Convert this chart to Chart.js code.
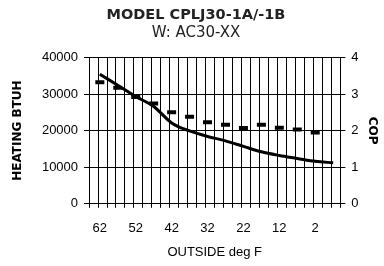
<!DOCTYPE html>
<html>
<head>
<meta charset="utf-8">
<script src="https://cdn.jsdelivr.net/npm/chart.js@4"></script>
<style>
  html, body { margin: 0; padding: 0; background: #fff; }
  #wrap { width: 384px; height: 266px; }
</style>
</head>
<body>
<div id="wrap"><canvas id="chart" width="384" height="266"></canvas></div>
<script>
// outdoor temperature tick labels (deg F)
const xTickLabels = [62, 52, 42, 32, 22, 12, 2];
// vertical grid positions (deg F)
const xGridLines = [65, 62.5, 60, 57.5, 55, 52.5, 50, 47.5, 45, 42.5, 40, 37.5, 35, 32.5, 30,
    27.5, 25, 22.5, 20, 17.5, 15, 12.5, 10, 7.5, 5, 2.5, 0, -2.5, -5];

// heating capacity, BTUH
const heatTemps = [62, 57, 52, 47, 42, 37, 32, 27, 22, 17, 12, 7, 2, -3];
const heatingBtuh = [35400, 32400, 29300, 26600, 22100, 19900, 18400, 17200, 15700, 14200, 13200, 12400, 11600, 11200];

// coefficient of performance
const copTemps = [62, 57, 52, 47, 42, 37, 32, 27, 22, 17, 12, 7, 2];
const copValues = [3.32, 3.17, 2.92, 2.74, 2.50, 2.38, 2.23, 2.16, 2.07, 2.16, 2.08, 2.03, 1.95];

const tickFont = { family: 'Liberation Sans', size: 13 };
const boldFont = { family: 'DejaVu Sans', size: 12, weight: 'bold' };

const ctx = document.getElementById('chart').getContext('2d');

new Chart(ctx, {
    type: 'scatter',
    data: {
        datasets: [
            {
                label: 'Heating BTUH',
                data: heatTemps.map((t, i) => ({ x: t, y: heatingBtuh[i] })),
                showLine: true,
                borderColor: '#000',
                borderWidth: 3,
                pointRadius: 0,
                cubicInterpolationMode: 'monotone',
                yAxisID: 'y'
            },
            {
                label: 'COP',
                data: copTemps.map((t, i) => ({ x: t, y: copValues[i] })),
                showLine: false,
                pointStyle: 'line',
                pointRadius: 4.5,
                pointBorderWidth: 4,
                borderColor: '#000',
                backgroundColor: '#000',
                yAxisID: 'y2'
            }
        ]
    },
    options: {
        responsive: false,
        animation: false,
        layout: { padding: { left: 10, right: 2, top: 4, bottom: 2 } },
        plugins: {
            legend: { display: false },
            tooltip: { enabled: false },
            title: {
                display: true,
                text: 'MODEL CPLJ30-1A/-1B',
                color: '#222',
                font: { family: 'DejaVu Sans', size: 14.5, weight: 'bold' },
                padding: { top: 3, bottom: 0 }
            },
            subtitle: {
                display: true,
                text: 'W: AC30-XX',
                color: '#222',
                font: { family: 'DejaVu Sans', size: 15 },
                padding: { top: 0, bottom: 15 }
            }
        },
        scales: {
            x: {
                type: 'linear',
                position: 'bottom',
                min: -5,
                max: 65,
                reverse: true,
                afterBuildTicks: axis => { axis.ticks = xGridLines.map(v => ({ value: v })); },
                ticks: { display: false },
                // grid drawn above the datasets layer, border after it
                grid: { display: true, color: '#000', lineWidth: 1, tickLength: 4, z: 1 },
                border: { color: '#000', z: 2 }
            },
            x2: {
                type: 'linear',
                position: 'bottom',
                min: -5,
                max: 65,
                reverse: true,
                afterBuildTicks: axis => { axis.ticks = xTickLabels.map(v => ({ value: v })); },
                ticks: { color: '#000', font: tickFont, padding: 5 },
                grid: { display: false },
                border: { display: false },
                title: { display: true, text: 'OUTSIDE deg F', color: '#000', font: tickFont, padding: { top: 3, bottom: 4 } }
            },
            y: {
                position: 'left',
                min: 0,
                max: 40000,
                ticks: { stepSize: 10000, color: '#000', font: tickFont, padding: 6, callback: v => String(v) },
                grid: { color: '#000', lineWidth: 1, tickLength: 5 },
                border: { color: '#000' },
                title: { display: true, text: 'HEATING BTUH', color: '#000', font: boldFont, padding: { top: 1, bottom: 10.5 } }
            },
            y2: {
                position: 'right',
                min: 0,
                max: 4,
                ticks: { stepSize: 1, color: '#000', font: tickFont, padding: 6 },
                grid: { drawOnChartArea: false, color: '#000', tickLength: 5 },
                border: { color: '#000' },
                title: { display: true, text: 'COP', color: '#000', font: boldFont, padding: { top: 3, bottom: 0 } }
            }
        }
    }
});
</script>
</body>
</html>
